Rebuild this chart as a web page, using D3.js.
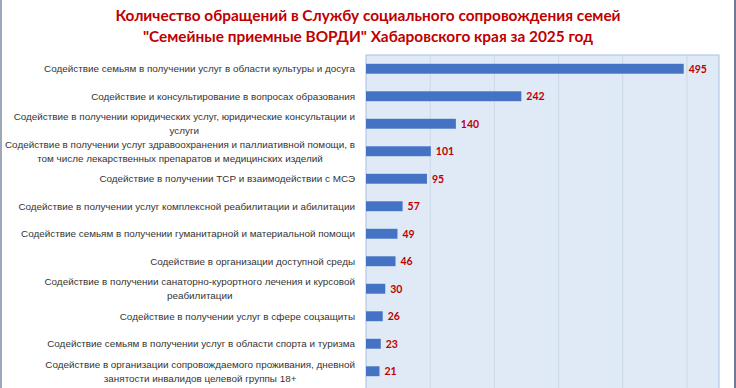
<!DOCTYPE html>
<html>
<head>
<meta charset="utf-8">
<script src="https://cdn.jsdelivr.net/npm/d3@7"></script>
<style>
  body { margin: 0; background: #fff; }
  svg { display: block; }
</style>
</head>
<body>
<div id="chart"></div>
<script>
// Chart data
var categories = [
  ["Содействие семьям в получении услуг в области культуры и досуга"],
  ["Содействие и консультирование в вопросах образования"],
  ["Содействие в получении юридических услуг, юридические консультации и", "услуги"],
  ["Содействие в получении услуг здравоохранения и паллиативной помощи, в", "том числе лекарственных препаратов и медицинских изделий"],
  ["Содействие в получении ТСР и взаимодействии с МСЭ"],
  ["Содействие в получении услуг комплексной реабилитации и абилитации"],
  ["Содействие семьям в получении гуманитарной и материальной помощи"],
  ["Содействие в организации доступной среды"],
  ["Содействие в получении санаторно-курортного лечения и курсовой", "реабилитации"],
  ["Содействие в получении услуг в сфере соцзащиты"],
  ["Содействие семьям в получении услуг в области спорта и туризма"],
  ["Содействие в организации сопровождаемого проживания, дневной", "занятости инвалидов целевой группы 18+"]
];
var values = [495, 242, 140, 101, 95, 57, 49, 46, 30, 26, 23, 21];
var gridTicks = [100, 200, 300, 400, 500];
var titleLines = [
  "Количество обращений в Службу социального сопровождения семей",
  "\"Семейные приемные ВОРДИ\" Хабаровского края за 2025 год"
];

var svgWidth = 736;
var svgHeight = 388;

var plot = { left: 366, right: 719, top: 55, bottom: 385 };

var svg = d3.select("#chart")
  .append("svg")
  .attr("width", svgWidth)
  .attr("height", svgHeight);

// outer frame lines
svg.append("line")
  .attr("x1", 1).attr("x2", 1).attr("y1", 0).attr("y2", svgHeight)
  .attr("stroke", "#7d8aa3").attr("stroke-width", 1.5);
svg.append("line")
  .attr("x1", 735).attr("x2", 735).attr("y1", 0).attr("y2", svgHeight)
  .attr("stroke", "#3b4b7c").attr("stroke-width", 1.5);

// title
svg.append("g")
  .selectAll("text")
  .data(titleLines)
  .enter()
  .append("text")
  .attr("x", 368)
  .attr("y", (d, i) => 21 + i * 21)
  .attr("text-anchor", "middle")
  .attr("font-family", "Lato, 'Open Sans', sans-serif")
  .attr("font-weight", "bold")
  .attr("font-size", 15.4)
  .attr("fill", "#c00000")
  .text(d => d);

var x = d3.scaleLinear()
  .domain([0, 550])
  .range([plot.left, plot.right]);

var y = d3.scaleBand()
  .domain(d3.range(values.length))
  .range([plot.top, plot.top + 27.5 * values.length])
  .paddingInner(0.64)
  .paddingOuter(0.32);

// plot background
svg.append("rect")
  .attr("x", plot.left)
  .attr("y", plot.top)
  .attr("width", plot.right - plot.left)
  .attr("height", svgHeight - plot.top + 5)
  .attr("fill", "#dfeaf6")
  .attr("stroke", "#a9bfe0")
  .attr("stroke-width", 1);

// gridlines
svg.append("g")
  .selectAll("line")
  .data(gridTicks)
  .enter()
  .append("line")
  .attr("x1", d => x(d))
  .attr("x2", d => x(d))
  .attr("y1", plot.top + 0.5)
  .attr("y2", svgHeight)
  .attr("stroke", "#cbd8ea")
  .attr("stroke-width", 1);

// bars
svg.append("g")
  .selectAll("rect")
  .data(values)
  .enter()
  .append("rect")
  .attr("x", x(0))
  .attr("y", (d, i) => y(i))
  .attr("width", d => x(d) - x(0))
  .attr("height", y.bandwidth())
  .attr("fill", "#4472c4");

// value labels
svg.append("g")
  .selectAll("text")
  .data(values)
  .enter()
  .append("text")
  .attr("x", d => x(d) + 5)
  .attr("y", (d, i) => y(i) + y.bandwidth() / 2)
  .attr("dy", "0.36em")
  .attr("font-family", "Lato, sans-serif")
  .attr("font-weight", "bold")
  .attr("font-size", 10.5)
  .attr("fill", "#c00000")
  .text(d => d);

// category labels
var labelRight = 355;
var lineGap = 13.7;
var labels = svg.append("g")
  .attr("font-family", "'Liberation Sans', Arial, sans-serif")
  .attr("font-size", 9.9)
  .attr("fill", "#333333");

categories.forEach(function(lines, i) {
  var cy = y(i) + y.bandwidth() / 2;
  var top = cy - (lines.length - 1) * lineGap / 2;
  var first = labels.append("text")
    .attr("x", labelRight)
    .attr("y", top)
    .attr("dy", "0.35em")
    .attr("text-anchor", "end")
    .text(lines[0]);
  if (lines.length > 1) {
    var w = first.node().getComputedTextLength();
    var center = labelRight - w / 2;
    first.attr("x", center).attr("text-anchor", "middle");
    for (var k = 1; k < lines.length; k++) {
      labels.append("text")
        .attr("x", center)
        .attr("y", top + k * lineGap)
        .attr("dy", "0.35em")
        .attr("text-anchor", "middle")
        .text(lines[k]);
    }
  }
});
</script>
</body>
</html>
